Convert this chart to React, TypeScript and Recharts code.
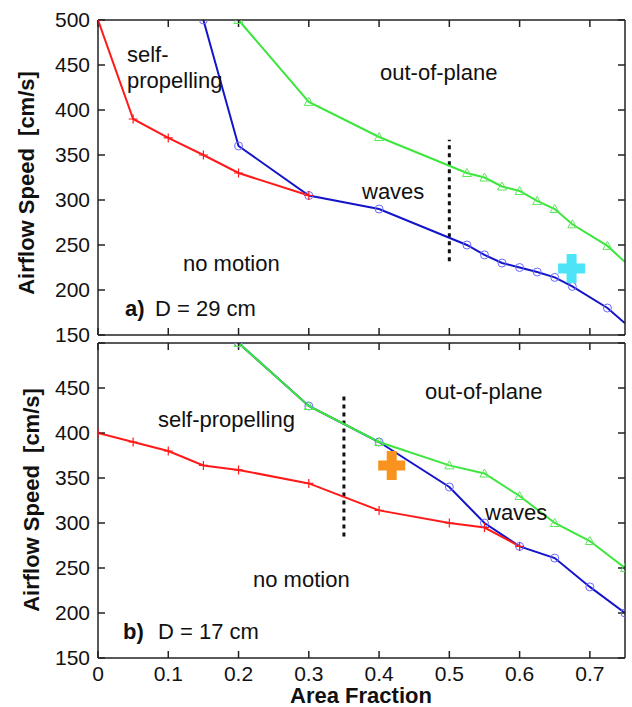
import { ComposedChart, Line, Scatter, XAxis, YAxis, ReferenceLine } from 'recharts'

const xTicks = [0, 0.1, 0.2, 0.3, 0.4, 0.5, 0.6, 0.7]
const yTicks = [150, 200, 250, 300, 350, 400, 450, 500]

// a) D = 29 cm
const selfPropA = [
  { x: 0, y: 500 }, { x: 0.05, y: 390 }, { x: 0.1, y: 369 }, { x: 0.15, y: 350 },
  { x: 0.2, y: 330 }, { x: 0.3, y: 305 },
]
const wavesA = [
  { x: 0.15, y: 500 }, { x: 0.2, y: 360 }, { x: 0.3, y: 305 }, { x: 0.4, y: 290 },
  { x: 0.525, y: 250 }, { x: 0.55, y: 239 }, { x: 0.575, y: 230 }, { x: 0.6, y: 225 },
  { x: 0.625, y: 220 }, { x: 0.65, y: 214 }, { x: 0.675, y: 204 }, { x: 0.725, y: 180 },
  { x: 0.75, y: 163 },
]
const outPlaneA = [
  { x: 0.2, y: 500 }, { x: 0.3, y: 409 }, { x: 0.4, y: 370 }, { x: 0.525, y: 330 },
  { x: 0.55, y: 325 }, { x: 0.575, y: 315 }, { x: 0.6, y: 310 }, { x: 0.625, y: 299 },
  { x: 0.65, y: 290 }, { x: 0.675, y: 273 }, { x: 0.725, y: 249 }, { x: 0.75, y: 231 },
]
const markA = [{ x: 0.674, y: 224 }]
const dividerA = [{ x: 0.5, y: 232 }, { x: 0.5, y: 367 }]

// b) D = 17 cm
const selfPropB = [
  { x: 0, y: 400 }, { x: 0.05, y: 390 }, { x: 0.1, y: 380 }, { x: 0.15, y: 364 },
  { x: 0.2, y: 359 }, { x: 0.3, y: 344 }, { x: 0.4, y: 314 }, { x: 0.5, y: 300 },
  { x: 0.55, y: 295 }, { x: 0.6, y: 274 },
]
const wavesB = [
  { x: 0.2, y: 500 }, { x: 0.3, y: 430 }, { x: 0.4, y: 390 }, { x: 0.5, y: 340 },
  { x: 0.55, y: 300 }, { x: 0.6, y: 274 }, { x: 0.65, y: 261 }, { x: 0.7, y: 229 },
  { x: 0.75, y: 200 },
]
const outPlaneB = [
  { x: 0.2, y: 500 }, { x: 0.3, y: 430 }, { x: 0.4, y: 390 }, { x: 0.5, y: 364 },
  { x: 0.55, y: 355 }, { x: 0.6, y: 330 }, { x: 0.65, y: 300 }, { x: 0.7, y: 280 },
  { x: 0.75, y: 250 },
]
const markB = [{ x: 0.418, y: 364 }]
const dividerB = [{ x: 0.35, y: 285 }, { x: 0.35, y: 445 }]

const FONT = '"Liberation Sans", Arial, Helvetica, sans-serif'
const AXIS = { stroke: '#222', strokeWidth: 1.5 }
const TICK = { fill: '#111', fontSize: 21, fontFamily: FONT }
const RED = '#ff1a1a'
const BLUE = '#1414c8'
const GREEN = '#3ce63c'

// hideEdge: the upper panel's curves run off the right edge without a marker
const plusDot = (hideEdge: boolean) => (p: any) => {
  const { cx, cy, index, payload } = p
  if (hideEdge && payload.x >= 0.75) return <g key={index} />
  return <path key={index} d={`M${cx - 4.5},${cy}H${cx + 4.5}M${cx},${cy - 4.5}V${cy + 4.5}`} stroke={RED} strokeWidth={1.2} fill="none" />
}
const circleDot = (hideEdge: boolean) => (p: any) => {
  const { cx, cy, index, payload } = p
  if (hideEdge && payload.x >= 0.75) return <g key={index} />
  return <circle key={index} cx={cx} cy={cy} r={4} stroke="#6a6aff" strokeWidth={1} fill="none" />
}
const triDot = (hideEdge: boolean) => (p: any) => {
  const { cx, cy, index, payload } = p
  if (hideEdge && payload.x >= 0.75) return <g key={index} />
  return <path key={index} d={`M${cx},${cy - 4.5}L${cx + 4.5},${cy + 3.5}L${cx - 4.5},${cy + 3.5}Z`} stroke="#5ee65e" strokeWidth={1} fill="none" />
}

const bigPlus = (color: string) => (p: any) => {
  const { cx, cy } = p
  return (
    <path
      d={`M${cx - 13.5},${cy - 5}h27v10h-27zM${cx - 5},${cy - 14.5}h10v29h-10z`}
      fill={color}
    />
  )
}

interface PanelProps {
  self: { x: number; y: number }[]
  waves: { x: number; y: number }[]
  outPlane: { x: number; y: number }[]
  mark: { x: number; y: number }[]
  markColor: string
  divider: { x: number; y: number }[]
  height: number
  topH: number
  bottomH: number
  labels: boolean
}

function Panel({ self, waves, outPlane, mark, markColor, divider, height, topH, bottomH, labels }: PanelProps) {
  const hideEdge = !labels
  return (
    <ComposedChart width={632} height={height} margin={{ top: 0, right: 0, bottom: 0, left: 0 }} style={{ overflow: 'visible' }}>
      <XAxis
        xAxisId="b" type="number" dataKey="x" domain={[0, 0.75]} ticks={xTicks} allowDataOverflow
        orientation="bottom" height={bottomH} axisLine={AXIS} tickLine={AXIS} tickSize={-7} tickMargin={15}
        tick={TICK} tickFormatter={(v: number) => (labels ? String(v) : '')} interval={0}
      />
      <XAxis
        xAxisId="t" type="number" dataKey="x" domain={[0, 0.75]} ticks={xTicks} allowDataOverflow
        orientation="top" height={topH} axisLine={AXIS} tickLine={AXIS} tickSize={-7} tickMargin={15}
        tick={TICK} tickFormatter={() => ''} interval={0}
      />
      <YAxis
        yAxisId="l" type="number" domain={[150, 500]} ticks={yTicks} allowDataOverflow
        orientation="left" width={98} axisLine={AXIS} tickLine={AXIS} tickSize={-7} tickMargin={15}
        tick={TICK} tickFormatter={(v: number) => (labels && v === 500 ? '' : String(v))} interval={0}
      />
      <YAxis
        yAxisId="r" type="number" domain={[150, 500]} ticks={yTicks} allowDataOverflow
        orientation="right" width={7} axisLine={AXIS} tickLine={AXIS} tickSize={-7} tickMargin={15}
        tick={TICK} tickFormatter={() => ''} interval={0}
      />
      <ReferenceLine
        xAxisId="b" yAxisId="l" segment={divider} stroke="#111" strokeWidth={3} strokeDasharray="4 4"
      />
      <Line
        xAxisId="b" yAxisId="l" data={waves} dataKey="y" stroke={BLUE} strokeWidth={2}
        dot={circleDot(hideEdge)} isAnimationActive={false} type="linear"
      />
      <Line
        xAxisId="b" yAxisId="l" data={outPlane} dataKey="y" stroke={GREEN} strokeWidth={2}
        dot={triDot(hideEdge)} isAnimationActive={false} type="linear"
      />
      <Line
        xAxisId="b" yAxisId="l" data={self} dataKey="y" stroke={RED} strokeWidth={2}
        dot={plusDot(hideEdge)} isAnimationActive={false} type="linear"
      />
      <Scatter
        xAxisId="b" yAxisId="l" data={mark} dataKey="y" shape={bigPlus(markColor)} isAnimationActive={false}
      />
    </ComposedChart>
  )
}

const txt = (left: number, top: number, s: string, extra: any = {}) => (
  <div
    style={{
      position: 'absolute', left, top, fontFamily: FONT, fontSize: 22, lineHeight: '22px',
      color: '#111', whiteSpace: 'nowrap', ...extra,
    }}
  >
    {s}
  </div>
)

const yLabel = (cx: number, cy: number) => (
  <div
    style={{
      position: 'absolute', left: cx, top: cy, transform: 'translate(-50%, -50%) rotate(-90deg)',
      fontFamily: FONT, fontSize: 22, lineHeight: '22px', fontWeight: 'bold', color: '#111', whiteSpace: 'pre',
    }}
  >
    {'Airflow Speed  [cm/s]'}
  </div>
)

export default function App() {
  return (
    <div style={{ position: 'absolute', left: 0, top: 0, width: 632, height: 707, background: '#fff' }}>
      <div style={{ position: 'absolute', left: 0, top: 340 }}>
        <Panel
          self={selfPropB} waves={wavesB} outPlane={outPlaneB} mark={markB} markColor="#f7931e"
          divider={dividerB} height={367} topH={3} bottomH={49} labels={true}
        />
      </div>
      <div style={{ position: 'absolute', left: 0, top: 0 }}>
        <Panel
          self={selfPropA} waves={wavesA} outPlane={outPlaneA} mark={markA} markColor="#4de4f7"
          divider={dividerA} height={350} topH={20} bottomH={15} labels={false}
        />
      </div>

      {txt(127, 44, 'self-')}
      {txt(127, 70, 'propelling')}
      {txt(380, 62, 'out-of-plane')}
      {txt(362, 181, 'waves')}
      {txt(183, 253, 'no motion')}
      {txt(125, 298, 'a)', { fontWeight: 'bold' })}
      {txt(155, 298, 'D = 29 cm')}

      {txt(158, 409, 'self-propelling')}
      {txt(425, 381, 'out-of-plane')}
      {txt(485, 502, 'waves')}
      {txt(253, 569, 'no motion')}
      {txt(123, 621, 'b)', { fontWeight: 'bold' })}
      {txt(158, 621, 'D = 17 cm')}

      {yLabel(27, 183)}
      {yLabel(32, 500)}
      <div
        style={{
          position: 'absolute', left: 361, top: 696, transform: 'translate(-50%, -50%)',
          fontFamily: FONT, fontSize: 22, lineHeight: '18px', fontWeight: 'bold', color: '#111', whiteSpace: 'nowrap',
        }}
      >
        Area Fraction
      </div>
    </div>
  )
}
